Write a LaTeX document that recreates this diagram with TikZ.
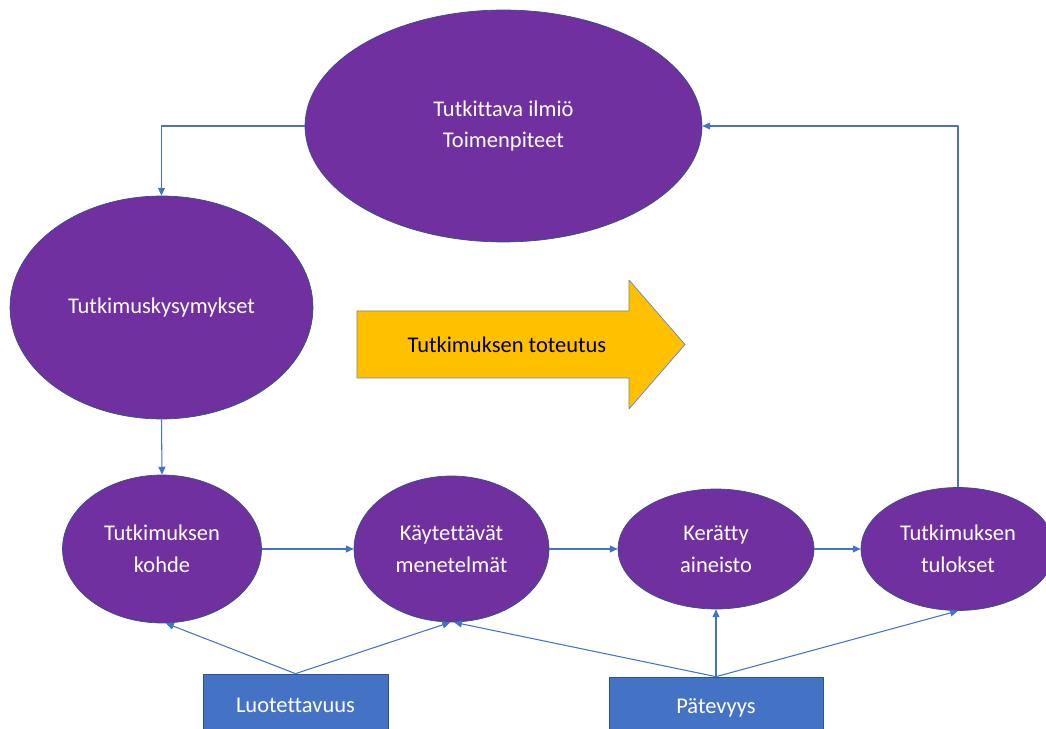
\documentclass[tikz,border=0pt]{standalone}
\usepackage{fontspec}
\setmainfont[Ligatures=NoCommon]{Carlito}
\usetikzlibrary{shapes.geometric,arrows.meta}
\definecolor{lila}{HTML}{7030A0}
\definecolor{reuna}{HTML}{2F528F}
\definecolor{sini}{HTML}{4472C4}
\definecolor{kelta}{HTML}{FFC000}
\tikzset{
  soikio/.style={ellipse,fill=lila,draw=reuna,line width=.4pt,text=white,align=center,inner sep=0pt},
  laatikko/.style={rectangle,fill=sini,draw=reuna,line width=.4pt,text=white,inner sep=0pt,minimum height=1.24cm},
  yhteys/.style={draw=sini,line width=.6pt,-{Triangle[length=4.5pt,width=4pt]}}
}
\begin{document}
\begin{tikzpicture}[x=0.02cm,y=-0.02cm,line join=round,font=\fontsize{12.8}{18.2}\selectfont]
  \useasboundingbox (0,0) rectangle (1046,729);
  % soikiot
  \node[soikio,minimum width=7.94cm,minimum height=4.64cm] (ilmio) at (503.5,126) {Tutkittava ilmiö\\Toimenpiteet};
  \node[soikio,minimum width=6.06cm,minimum height=4.46cm] (kysym) at (161.5,307.5) {Tutkimuskysymykset};
  \node[soikio,minimum width=3.98cm,minimum height=2.96cm] (kohde) at (162,549) {Tutkimuksen\\kohde};
  \node[soikio,minimum width=3.9cm,minimum height=2.92cm] (menet) at (451.5,549) {Käytettävät\\menetelmät};
  \node[soikio,minimum width=3.92cm,minimum height=2.4cm] (aineisto) at (716,549) {Kerätty\\aineisto};
  \node[soikio,minimum width=3.88cm,minimum height=2.46cm] (tulos) at (958,549) {Tutkimuksen\\tulokset};
  % laatikot
  \node[laatikko,minimum width=3.7cm] (luot) at (295.5,705) {Luotettavuus};
  \node[laatikko,minimum width=4.28cm] (pate) at (716,708) {Pätevyys};
  % iso nuoli
  \filldraw[fill=kelta,draw=reuna!70,line width=.4pt] (357,311)--(629,311)--(629,280)--(685,344.5)--(629,409)--(629,378)--(357,378)--cycle;
  \node (toteutus) at (507,344.5) {Tutkimuksen toteutus};
  % yhteydet
  \draw[yhteys] (ilmio.west) -| (kysym.north);
  \draw[yhteys] (kysym.south) -- (kohde.north);
  \draw[yhteys] (kohde.east) -- (menet.west);
  \draw[yhteys] (menet.east) -- (aineisto.west);
  \draw[yhteys] (aineisto.east) -- (tulos.west);
  \draw[yhteys] (tulos.north) |- (ilmio.east);
  \draw[yhteys] (luot.north) -- (kohde.-87);
  \draw[yhteys] (luot.north) -- (menet.-91);
  \draw[yhteys] (pate.north) -- (menet.-88);
  \draw[yhteys] (pate.north) -- (aineisto.south);
  \draw[yhteys] (pate.north) -- (tulos.south);
\end{tikzpicture}
\end{document}
